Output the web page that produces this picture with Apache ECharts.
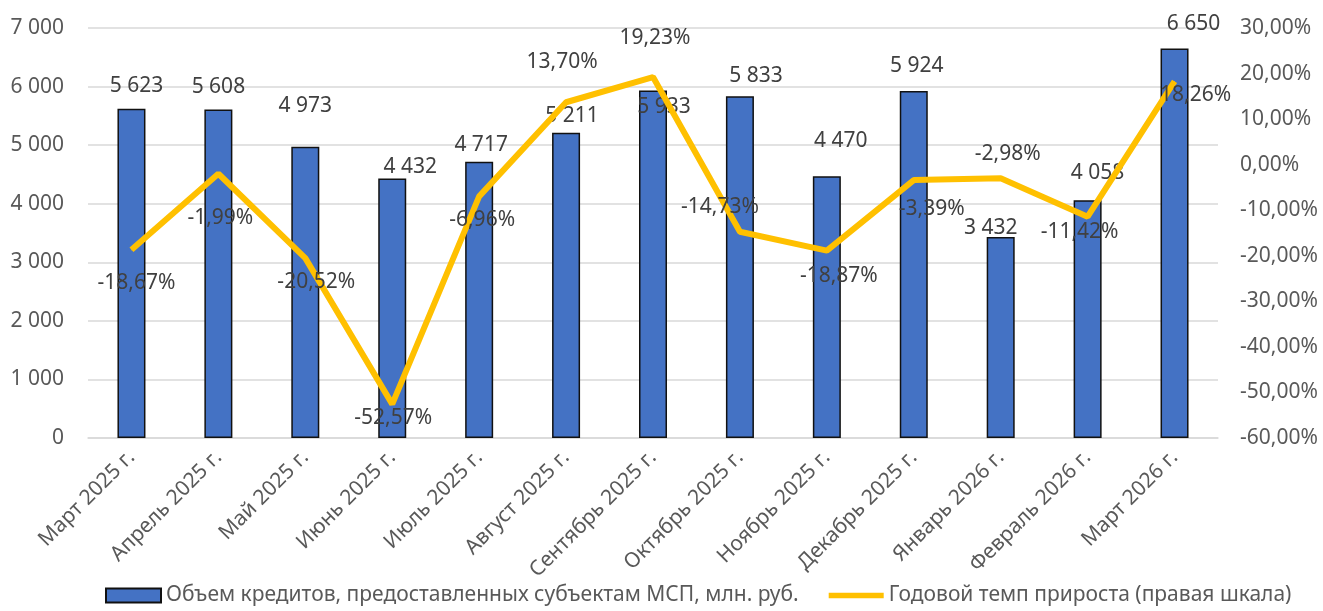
<!DOCTYPE html>
<html>
<head>
<meta charset="utf-8">
<script src="https://cdn.jsdelivr.net/npm/echarts@6/dist/echarts.min.js"></script>
<style>
  html, body { margin: 0; padding: 0; background: #fff; }
  #chart { width: 1323px; height: 611px; }
</style>
</head>
<body>
<div id="chart"></div>
<script>
const months = ['Март 2025 г.', 'Апрель 2025 г.', 'Май 2025 г.', 'Июнь 2025 г.', 'Июль 2025 г.',
  'Август 2025 г.', 'Сентябрь 2025 г.', 'Октябрь 2025 г.', 'Ноябрь 2025 г.', 'Декабрь 2025 г.',
  'Январь 2026 г.', 'Февраль 2026 г.', 'Март 2026 г.']
const loans = [5623, 5608, 4973, 4432, 4717, 5211, 5933, 5833, 4470, 5924, 3432, 4058, 6650]
const growth = [-18.67, -1.99, -20.52, -52.57, -6.96, 13.70, 19.23, -14.73, -18.87, -3.39, -2.98, -11.42, 18.26]

const barName = 'Объем кредитов, предоставленных субъектам МСП, млн. руб.'
const lineName = 'Годовой темп прироста (правая шкала)'

const txt = '#595959'
const font = 'Noto Sans'
const fs = 21
const fmtNum = v => String(v).replace(/\B(?=(\d{3})+(?!\d))/g, ' ')
const fmtPct = v => v.toFixed(2).replace('.', ',') + '%'

// hand-moved labels in the original (offsets in px)
const barLabelShift = [[5, 0], [0, 0], [0, -18], [18, 11], [2, 6], [6, 6], [11, 39],
  [16, 2], [14, -13], [3, -3], [-10, 14], [10, -5], [19, -2]]
const lineLabelShift = [[5, 33], [2, 44], [11, 24], [1, 14], [3, 24], [-4, -40], [2, -39],
  [-20, -25], [12, 25], [18, 29], [7, -24], [-8, 15], [21, 14]]

let dom = echarts.init(document.getElementById('chart'))
let option = {
  animation: false,
  textStyle: { fontFamily: font },
  grid: { left: 88, right: 105, top: 28, bottom: 173 },
  legend: {
    bottom: 0,
    left: 100,
    itemGap: 30,
    itemWidth: 55,
    itemHeight: 14,
    textStyle: { fontSize: fs, color: txt, fontFamily: font },
    data: [
      { name: barName, icon: 'rect' },
      { name: lineName, icon: 'path://M0,0H60V6H0Z' }
    ]
  },
  xAxis: {
    type: 'category',
    data: months,
    axisTick: { show: false },
    axisLine: { lineStyle: { color: '#d9d9d9', width: 1.5 } },
    axisLabel: { rotate: 45, fontSize: fs, color: txt, margin: 16, interval: 0 }
  },
  yAxis: [{
    type: 'value',
    min: 0,
    max: 7000,
    interval: 1000,
    axisLabel: { fontSize: fs, color: txt, margin: 24, formatter: fmtNum },
    splitLine: { lineStyle: { color: '#d9d9d9', width: 1.5 } }
  }, {
    type: 'value',
    min: -60,
    max: 30,
    interval: 10,
    axisLabel: { fontSize: fs, color: txt, margin: 22, formatter: v => fmtPct(v) },
    splitLine: { show: false }
  }],
  series: [{
    name: barName,
    type: 'bar',
    data: loans.map((v, i) => ({ value: v, label: { offset: barLabelShift[i] } })),
    barWidth: 28,
    itemStyle: { color: '#4472C4', borderColor: '#111', borderWidth: 1.5 },
    label: {
      show: true,
      position: 'top',
      distance: 12,
      fontSize: fs,
      color: '#404040',
      formatter: p => fmtNum(p.value)
    }
  }, {
    name: lineName,
    type: 'line',
    yAxisIndex: 1,
    data: growth,
    symbol: 'circle',
    symbolSize: 1,
    showSymbol: true,
    lineStyle: { color: '#FFC000', width: 6 },
    itemStyle: { color: '#FFC000' },
    z: 5,
    label: {
      show: true,
      position: 'inside',
      fontSize: fs,
      color: '#404040',
      formatter: p => fmtPct(p.value)
    },
    labelLayout: p => ({
      dx: lineLabelShift[p.dataIndex][0],
      dy: lineLabelShift[p.dataIndex][1],
      hideOverlap: false
    })
  }]
}
dom.setOption(option)
</script>
</body>
</html>
